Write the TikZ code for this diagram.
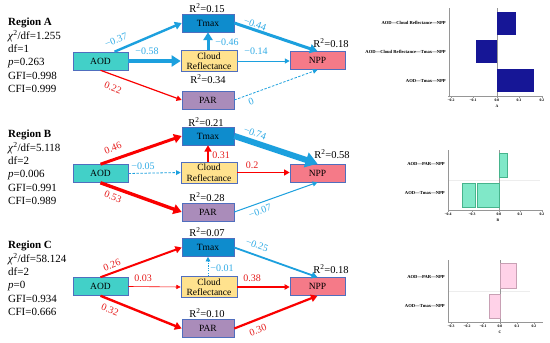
\documentclass[tikz,border=0pt]{standalone}
\usepackage{fontspec}
\setmainfont{Liberation Serif}
\usetikzlibrary{arrows.meta,calc}
\definecolor{eblue}{RGB}{28,160,222}
\definecolor{lblue}{RGB}{50,172,230}
\definecolor{ered}{RGB}{250,0,0}
\definecolor{lred}{RGB}{230,30,30}
\definecolor{aodfill}{RGB}{66,208,200}
\definecolor{tmaxfill}{RGB}{14,140,205}
\definecolor{cloudfill}{RGB}{255,226,142}
\definecolor{nppfill}{RGB}{245,122,136}
\definecolor{parfill}{RGB}{170,140,186}
\definecolor{boxborder}{RGB}{80,110,190}
\definecolor{navybar}{RGB}{22,22,150}
\definecolor{mintbar}{RGB}{128,232,200}
\definecolor{mintedge}{RGB}{70,180,140}
\definecolor{pinkbar}{RGB}{255,210,232}
\definecolor{pinkedge}{RGB}{200,160,180}
\definecolor{axisgray}{RGB}{150,150,150}
\tikzset{
  varbox/.style={draw=boxborder, line width=0.6pt, inner sep=0pt, font=\fontsize{9.5}{10.5}\selectfont, align=center},
  aodbox/.style={varbox, fill=aodfill, minimum width=55pt, minimum height=18pt},
  tmaxbox/.style={varbox, fill=tmaxfill, minimum width=52pt, minimum height=18pt},
  cloudbox/.style={varbox, fill=cloudfill, minimum width=56pt, minimum height=21pt},
  nppbox/.style={varbox, fill=nppfill, minimum width=55pt, minimum height=18pt},
  parbox/.style={varbox, fill=parfill, minimum width=52pt, minimum height=18pt},
  ebl/.style={draw=eblue, line width=#1pt, -{Triangle[length=3.5pt 1.4, width=3pt 2]}},
  erd/.style={draw=ered, line width=#1pt, -{Triangle[length=3.5pt 1.4, width=3pt 2]}},
  dsh/.style={dash pattern=on 2.5pt off 1.5pt},
  bluelab/.style={text=lblue, font=\fontsize{10}{11}\selectfont, inner sep=0pt},
  redlab/.style={text=lred, font=\fontsize{10}{11}\selectfont, inner sep=0pt},
  rsq/.style={font=\fontsize{10.5}{11}\selectfont, inner sep=0pt},
  stats/.style={anchor=north west, align=left, inner sep=0pt, font=\fontsize{11}{13.3}\selectfont},
  barlab/.style={anchor=east, inner sep=0pt, font=\fontsize{4.6}{5}\selectfont\bfseries},
  ticklab/.style={inner sep=0pt, font=\fontsize{3.8}{4}\selectfont\bfseries},
  axl/.style={draw=axisgray, line width=0.6pt},
  zerol/.style={draw=axisgray, line width=0.5pt}
}
\begin{document}
\begin{tikzpicture}[x=1pt,y=-1pt]
\useasboundingbox (0,0) rectangle (550,343);
\fill[white] (0,0) rectangle (550,343);

% ---------------- Region A ----------------
\node[stats] (statsA) at (8,18) {\textbf{Region A}\\\textit{χ}\textsuperscript{2}/df=1.255\\df=1\\\textit{p}=0.263\\GFI=0.998\\CFI=0.999};
\node[aodbox] (aodA) at (100.5,61) {AOD};
\node[tmaxbox] (tmaxA) at (208,23) {Tmax};
\node[cloudbox] (cloudA) at (209,61) {Cloud\\Reflectance};
\node[nppbox] (nppA) at (317.5,60.5) {NPP};
\node[parbox] (parA) at (208,100) {PAR};
\draw[ebl=2.4] ([xshift=14pt]aodA.north) -- (tmaxA.west);
\draw[ebl=4] (aodA.east) -- (cloudA.west);
\draw[erd=1.2] (aodA.south) -- (parA.west);
\draw[ebl=3] (cloudA.north -| tmaxA.south) -- (tmaxA.south);
\draw[ebl=3] (tmaxA.east) -- (nppA.north);
\draw[ebl=1] (cloudA.east) -- (cloudA.east -| nppA.west);
\draw[ebl=0.8, dsh] (parA.east) -- (nppA.south);
\node[bluelab, rotate=21] (lA1) at (116,40) {−0.37};
\node[bluelab] (lA2) at (147,51) {−0.58};
\node[redlab, rotate=-21] (lA3) at (113,88) {0.22};
\node[bluelab] (lA4) at (227,42) {−0.46};
\node[bluelab, rotate=-20] (lA5) at (255,24) {−0.44};
\node[bluelab] (lA6) at (256,51) {−0.14};
\node[bluelab, rotate=20] (lA7) at (251,102) {0};
\node[rsq] (rA1) at (207,8) {R\textsuperscript{2}=0.15};
\node[rsq] (rA2) at (331,43) {R\textsuperscript{2}=0.18};
\node[rsq] (rA3) at (208,79) {R\textsuperscript{2}=0.34};

% ---------------- Region B ----------------
\node[stats] (statsB) at (8,130) {\textbf{Region B}\\\textit{χ}\textsuperscript{2}/df=5.118\\df=2\\\textit{p}=0.006\\GFI=0.991\\CFI=0.989};
\node[aodbox] (aodB) at (100.5,173.5) {AOD};
\node[tmaxbox] (tmaxB) at (208,136) {Tmax};
\node[cloudbox] (cloudB) at (209,172.5) {Cloud\\Reflectance};
\node[nppbox] (nppB) at (317.5,173) {NPP};
\node[parbox] (parB) at (208,212) {PAR};
\draw[erd=3] (aodB.north) -- (tmaxB.west);
\draw[ebl=0.8, dsh] (aodB.east) -- (cloudB.west);
\draw[erd=3.4] (aodB.south) -- (parB.west);
\draw[erd=2] (cloudB.north -| tmaxB.south) -- (tmaxB.south);
\draw[ebl=6] (tmaxB.east) -- (nppB.north);
\draw[erd=1.4] (cloudB.east) -- (cloudB.east -| nppB.west);
\draw[ebl=1] (parB.east) -- (nppB.south);
\node[redlab, rotate=21] (lB1) at (113,148) {0.46};
\node[bluelab] (lB2) at (143,166) {−0.05};
\node[redlab, rotate=-21] (lB3) at (113,197) {0.53};
\node[redlab] (lB4) at (221,155) {0.31};
\node[bluelab, rotate=-20] (lB5) at (255,133) {−0.74};
\node[redlab] (lB6) at (252,165) {0.2};
\node[bluelab, rotate=20] (lB7) at (260,211) {−0.07};
\node[rsq] (rB1) at (206,122) {R\textsuperscript{2}=0.21};
\node[rsq] (rB2) at (332,154) {R\textsuperscript{2}=0.58};
\node[rsq] (rB3) at (207,197) {R\textsuperscript{2}=0.28};

% ---------------- Region C ----------------
\node[stats] (statsC) at (8,241) {\textbf{Region C}\\\textit{χ}\textsuperscript{2}/df=58.124\\df=2\\\textit{p}=0\\GFI=0.934\\CFI=0.666};
\node[aodbox] (aodC) at (100.5,286.5) {AOD};
\node[tmaxbox] (tmaxC) at (208,247.5) {Tmax};
\node[cloudbox] (cloudC) at (209,287) {Cloud\\Reflectance};
\node[nppbox] (nppC) at (317.5,286.5) {NPP};
\node[parbox] (parC) at (208,328.5) {PAR};
\draw[erd=2] (aodC.north) -- (tmaxC.west);
\draw[erd=0.6] (aodC.east) -- (cloudC.west);
\draw[erd=2.4] (aodC.south) -- (parC.west);
\draw[ebl=0.8, dash pattern=on 1.2pt off 1.2pt] (cloudC.north -| tmaxC.south) -- (tmaxC.south);
\draw[ebl=1.8] (tmaxC.east) -- (nppC.north);
\draw[erd=1.2] (cloudC.east) -- (cloudC.east -| nppC.west);
\draw[erd=2.2] (parC.east) -- (nppC.south);
\node[redlab, rotate=21] (lC1) at (112,265) {0.26};
\node[redlab] (lC2) at (143,278) {0.03};
\node[redlab, rotate=-21] (lC3) at (110,310) {0.32};
\node[bluelab] (lC4) at (222,268) {−0.01};
\node[bluelab, rotate=-20] (lC5) at (257,245) {−0.25};
\node[redlab] (lC6) at (252,278) {0.38};
\node[redlab, rotate=20] (lC7) at (258,330) {0.30};
\node[rsq] (rC1) at (207,232) {R\textsuperscript{2}=0.07};
\node[rsq] (rC2) at (331,269) {R\textsuperscript{2}=0.18};
\node[rsq] (rC3) at (207,313) {R\textsuperscript{2}=0.10};

% ---------------- Chart A ----------------
\draw[zerol] (497,8) -- (497,96);
\fill[navybar] (497,12) rectangle (516,35);
\fill[navybar] (476,40) rectangle (497,63);
\fill[navybar] (497,69) rectangle (534,92);
\draw[axl] (449,8) -- (449,96);
\draw[axl] (448,96) -- (543,96);
\foreach \x in {451,473,497,519,542} \draw[axl, line width=0.4pt] (\x,96) -- (\x,97.5);
\node[barlab] (bA1) at (446,23) {AOD—Cloud Reflectance—NPP};
\node[barlab] (bA2) at (446,52) {AOD—Cloud Reflectance—Tmax—NPP};
\node[barlab] (bA3) at (446,81) {AOD—Tmax—NPP};
\node[ticklab] (tA1) at (451,100) {−0.2};
\node[ticklab] (tA2) at (473,100) {−0.1};
\node[ticklab] (tA3) at (497,100) {0.0};
\node[ticklab] (tA4) at (519,100) {0.1};
\node[ticklab] (tA5) at (542,100) {0.2};
\node[ticklab] (xA) at (497,106.5) {A};

% ---------------- Chart B ----------------
\draw[draw=black!7, line width=0.4pt] (448,180) -- (540,180);
\draw[zerol] (499,150) -- (499,210);
\filldraw[fill=mintbar, draw=mintedge, line width=0.4pt] (499,153) rectangle (507,177);
\filldraw[fill=mintbar, draw=mintedge, line width=0.4pt] (462,183) rectangle (475,207);
\filldraw[fill=mintbar, draw=mintedge, line width=0.4pt] (477,183) rectangle (499,207);
\draw[axl] (448,150) -- (448,210);
\draw[axl] (448,210) -- (543,210);
\foreach \x in {448,472,499,520,542} \draw[axl, line width=0.4pt] (\x,210) -- (\x,211.5);
\node[barlab] (bB1) at (445,164) {AOD—PAR—NPP};
\node[barlab] (bB2) at (445,193) {AOD—Tmax—NPP};
\node[ticklab] (tB1) at (448,214) {−0.4};
\node[ticklab] (tB2) at (472,214) {−0.3};
\node[ticklab] (tB3) at (499,214) {0.0};
\node[ticklab] (tB4) at (520,214) {0.1};
\node[ticklab] (tB5) at (542,214) {0.2};
\node[ticklab] (xB) at (498,220.5) {B};

% ---------------- Chart C ----------------
\draw[draw=black!7, line width=0.4pt] (448,291) -- (530,291);
\draw[zerol] (500,260) -- (500,322);
\filldraw[fill=pinkbar, draw=pinkedge, line width=0.4pt] (500,263) rectangle (516,288);
\filldraw[fill=pinkbar, draw=pinkedge, line width=0.4pt] (489,294) rectangle (500,318);
\draw[axl] (448,260) -- (448,322);
\draw[axl] (448,322) -- (543,322);
\foreach \x in {451,467,483,500,517,534} \draw[axl, line width=0.4pt] (\x,322) -- (\x,323.5);
\node[barlab] (bC1) at (445,277) {AOD—PAR—NPP};
\node[barlab] (bC2) at (445,306) {AOD—Tmax—NPP};
\node[ticklab] (tC1) at (451,326) {−0.3};
\node[ticklab] (tC2) at (467,326) {−0.2};
\node[ticklab] (tC3) at (483,326) {−0.1};
\node[ticklab] (tC4) at (500,326) {0.0};
\node[ticklab] (tC5) at (517,326) {0.1};
\node[ticklab] (tC6) at (534,326) {0.2};
\node[ticklab] (xC) at (500,332.5) {C};
\end{tikzpicture}
\end{document}
